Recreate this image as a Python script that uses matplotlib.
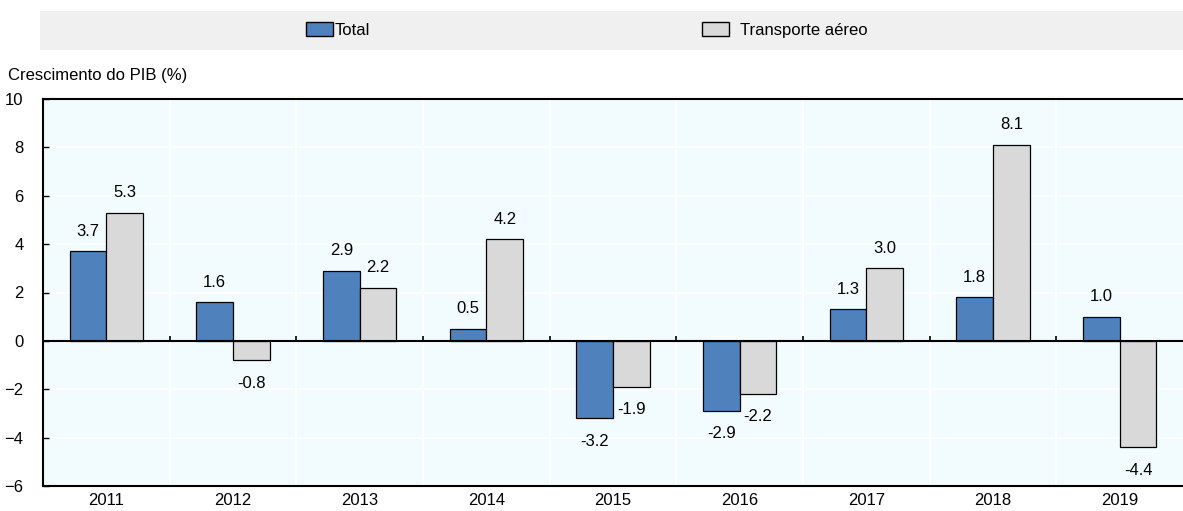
import numpy as np
import matplotlib.pyplot as plt
from matplotlib.patches import Patch

years = ["2011", "2012", "2013", "2014", "2015", "2016", "2017", "2018", "2019"]
total = [3.7, 1.6, 2.9, 0.5, -3.2, -2.9, 1.3, 1.8, 1.0]
air = [5.3, -0.8, 2.2, 4.2, -1.9, -2.2, 3.0, 8.1, -4.4]
series_names = ["Total", "Transporte aéreo"]

blue = "#4F81BD"
grey = "#D9D9D9"
bg = "#F2FCFF"

plt.rcParams["font.family"] = ["Liberation Sans Narrow", "Liberation Sans", "DejaVu Sans"]

fig = plt.figure(figsize=(11.83, 5.11), dpi=100)
ax = fig.add_axes([43 / 1183, 1 - 486 / 511, 1 - 43 / 1183, (486 - 99) / 511])

x = np.arange(len(years))
w = 0.29

ax.set_facecolor(bg)
ax.set_xlim(-0.5, len(years) - 0.5)
ax.set_ylim(-6, 10)
ax.set_yticks(range(-6, 11, 2))

# white grid
for yv in range(-4, 10, 2):
    ax.axhline(yv, color="white", linewidth=1.2, zorder=0)
for b in np.arange(0.5, len(years) - 0.5, 1):
    ax.axvline(b, color="white", linewidth=1.2, zorder=0)

b1 = ax.bar(x - w / 2, total, w, color=blue, edgecolor="black", linewidth=0.9, zorder=3)
b2 = ax.bar(x + w / 2, air, w, color=grey, edgecolor="black", linewidth=0.9, zorder=3)

for bars, vals in [(b1, total), (b2, air)]:
    for rect, v in zip(bars, vals):
        cx = rect.get_x() + rect.get_width() / 2
        if v >= 0:
            ax.annotate(f"{v:.1f}", (cx, v), xytext=(0, 9), textcoords="offset points",
                        ha="center", va="bottom", fontsize=12)
        else:
            ax.annotate(f"{v:.1f}", (cx, v), xytext=(0, -11), textcoords="offset points",
                        ha="center", va="top", fontsize=12)

# zero line and boundary ticks on it
ax.axhline(0, color="black", linewidth=1.5, zorder=4)
ax.vlines(np.arange(0.5, len(years) - 0.5, 1), 0, 0.22, color="black", linewidth=1.2, zorder=4)

ax.set_xticks(x)
ax.set_xticklabels(years, fontsize=12)
ax.tick_params(axis="x", length=0, pad=5)
ax.tick_params(axis="y", direction="in", length=4, width=1, labelsize=12, pad=14)

for s in ["left", "top", "bottom"]:
    ax.spines[s].set_linewidth(1.5)
    ax.spines[s].set_color("black")
ax.spines["right"].set_visible(False)

fig.text(8 / 1183, 1 - 75 / 511, "Crescimento do PIB (%)", fontsize=12, ha="left", va="center")

# legend band
band = plt.Rectangle((40 / 1183, 1 - 50 / 511), 1 - 40 / 1183, 39 / 511,
                     transform=fig.transFigure, facecolor="#F0F0F0", edgecolor="none")
fig.patches.append(band)
leg_opts = dict(loc="center left", frameon=False, fontsize=12, handlelength=1.6,
                handleheight=0.85, borderpad=0, borderaxespad=0)
fig.legend([Patch(facecolor=blue, edgecolor="black")], [series_names[0]],
           bbox_to_anchor=(306 / 1183, 1 - 30 / 511), handletextpad=0.1, **leg_opts)
fig.legend([Patch(facecolor=grey, edgecolor="black")], [series_names[1]],
           bbox_to_anchor=(702 / 1183, 1 - 30 / 511), handletextpad=0.7, **leg_opts)

fig.savefig("out.png", dpi=100)
